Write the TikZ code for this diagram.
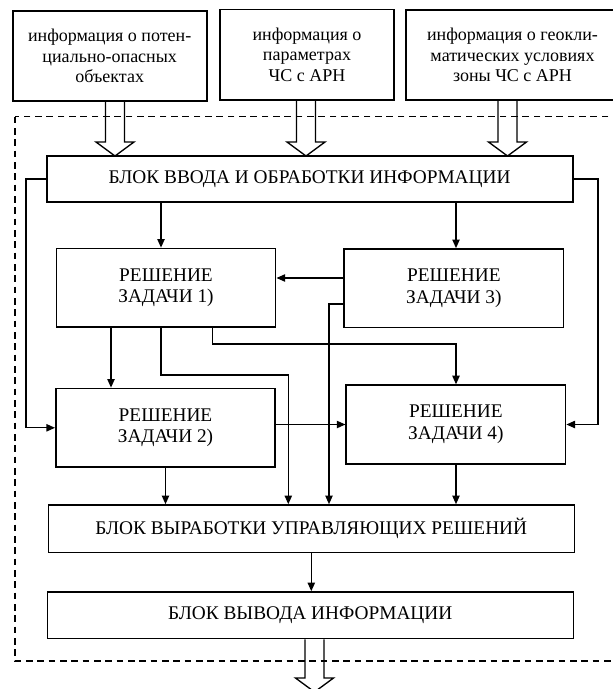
\documentclass[tikz,border=0pt]{standalone}
\usepackage{fontspec}
\setmainfont{Liberation Serif}
\usetikzlibrary{arrows.meta}
\usetikzlibrary{calc}
\tikzset{infobox/.style={draw, line width=1.2pt, align=center, inner sep=0pt,
    font=\fontsize{13.5}{15.4}\selectfont},
  block/.style={draw, line width=1.2pt, align=center, inner sep=0pt,
    minimum width=394.5pt, minimum height=35pt, font=\fontsize{14.5}{16.3}\selectfont},
  task/.style={block, minimum width=164.5pt, minimum height=59pt},
  conn/.style={line width=1pt, -{Triangle[length=6.5pt,width=5.5pt]}},
  fat/.style={line width=1pt, line join=miter},
  frame/.style={line width=0.9pt, dash pattern=on 5pt off 3.5pt}}
% wide hollow arrow from #1 down to the tip #2
\newcommand{\fatarrow}[2]{%
  \draw[fat] ($(#1)+(-9.5,0)$) -- ($(#2)+(-9.5,-14)$) -- ($(#2)+(-19,-14)$)
    -- (#2) -- ($(#2)+(19,-14)$) -- ($(#2)+(9.5,-14)$) -- ($(#1)+(9.5,0)$);}
\begin{document}
\begin{tikzpicture}[x=0.75pt, y=-0.75pt]
      \useasboundingbox (0,0) rectangle (613,689);
      \clip (0,0) rectangle (613,689);

      \draw[frame] (15,116.7) rectangle (640,661);

      \node[infobox, minimum width=145.5pt, minimum height=67.3pt] (src1) at (109.7,55.9)
        {информация о потен-\\циально-опасных\\объектах};
      \node[infobox, minimum width=130.5pt, minimum height=68pt] (src2) at (307,54.7)
        {информация о\\параметрах\\ЧС с АРН};
      \node[infobox, minimum width=159.75pt, minimum height=67.5pt] (src3) at (512.5,55)
        {информация о геокли-\\матических условиях\\зоны ЧС с АРН};

      \node[block, minimum height=34.3pt] (input) at (309.7,178.9) {БЛОК ВВОДА И ОБРАБОТКИ ИНФОРМАЦИИ};
      \node[task] (task1) at (166,287.8) {РЕШЕНИЕ\\ЗАДАЧИ 1)};
      \node[task] (task3) at (453.8,288.3) {РЕШЕНИЕ\\ЗАДАЧИ 3)};
      \node[task] (task2) at (165.5,427.8) {РЕШЕНИЕ\\ЗАДАЧИ 2)};
      \node[task] (task4) at (455.9,424.5) {РЕШЕНИЕ\\ЗАДАЧИ 4)};
      \node[block, minimum height=35.5pt] (control) at (311.3,528.7) {БЛОК ВЫРАБОТКИ УПРАВЛЯЮЩИХ РЕШЕНИЙ};
      \node[block, minimum height=34.9pt] (output) at (310.3,615.3) {БЛОК ВЫВОДА ИНФОРМАЦИИ};

      % lanes of the connectors
      \coordinate (laneL) at (26,0);
      \coordinate (laneR) at (598,0);
      \coordinate (laneA) at (161,0);
      \coordinate (laneB) at (111,0);
      \coordinate (laneC) at (212.7,0);
      \coordinate (laneD) at (288.3,0);
      \coordinate (laneE) at (329,0);
      \coordinate (laneF) at (456,0);
      \coordinate (rowA) at (0,278);
      \coordinate (rowB) at (0,304);
      \coordinate (rowC) at (0,344);
      \coordinate (rowD) at (0,375);

      \coordinate (tip1) at (115,156);
      \coordinate (tip2) at (306,156);
      \coordinate (tip3) at (507.5,156);
      \coordinate (tipout) at (314.5,692);
      \fatarrow{src1.south -| tip1}{tip1}
      \fatarrow{src2.south -| tip2}{tip2}
      \fatarrow{src3.south -| tip3}{tip3}
      \fatarrow{output.south -| tipout}{tipout}

      \draw[conn] (input.south -| laneA) -- (task1.north -| laneA);
      \draw[conn] (input.south -| laneF) -- (task3.north -| laneF);
      \draw[conn] (input.west) -- (input.west -| laneL) |- (task2.west);
      \draw[conn] (input.east) -- (input.east -| laneR) |- (task4.east);

      \draw[conn] (task3.west |- rowA) -- (task1.east |- rowA);
      \draw[conn] (task3.west |- rowB) -| (control.north -| laneE);
      \draw[conn] (task1.south -| laneB) -- (task2.north -| laneB);
      \draw[conn] (task1.south -| laneA) |- (laneD |- rowD) -- (control.north -| laneD);
      \draw[conn] (task1.south -| laneC) |- (laneF |- rowC) -- (task4.north -| laneF);
      \draw[conn] (task2.east |- task4.west) -- (task4.west);

      \draw[conn] (task2.south) -- (control.north -| task2.south);
      \draw[conn] (task4.south -| laneF) -- (control.north -| laneF);
      \draw[conn] (control.south) -- (output.north -| control.south);
    \end{tikzpicture}
\end{document}
